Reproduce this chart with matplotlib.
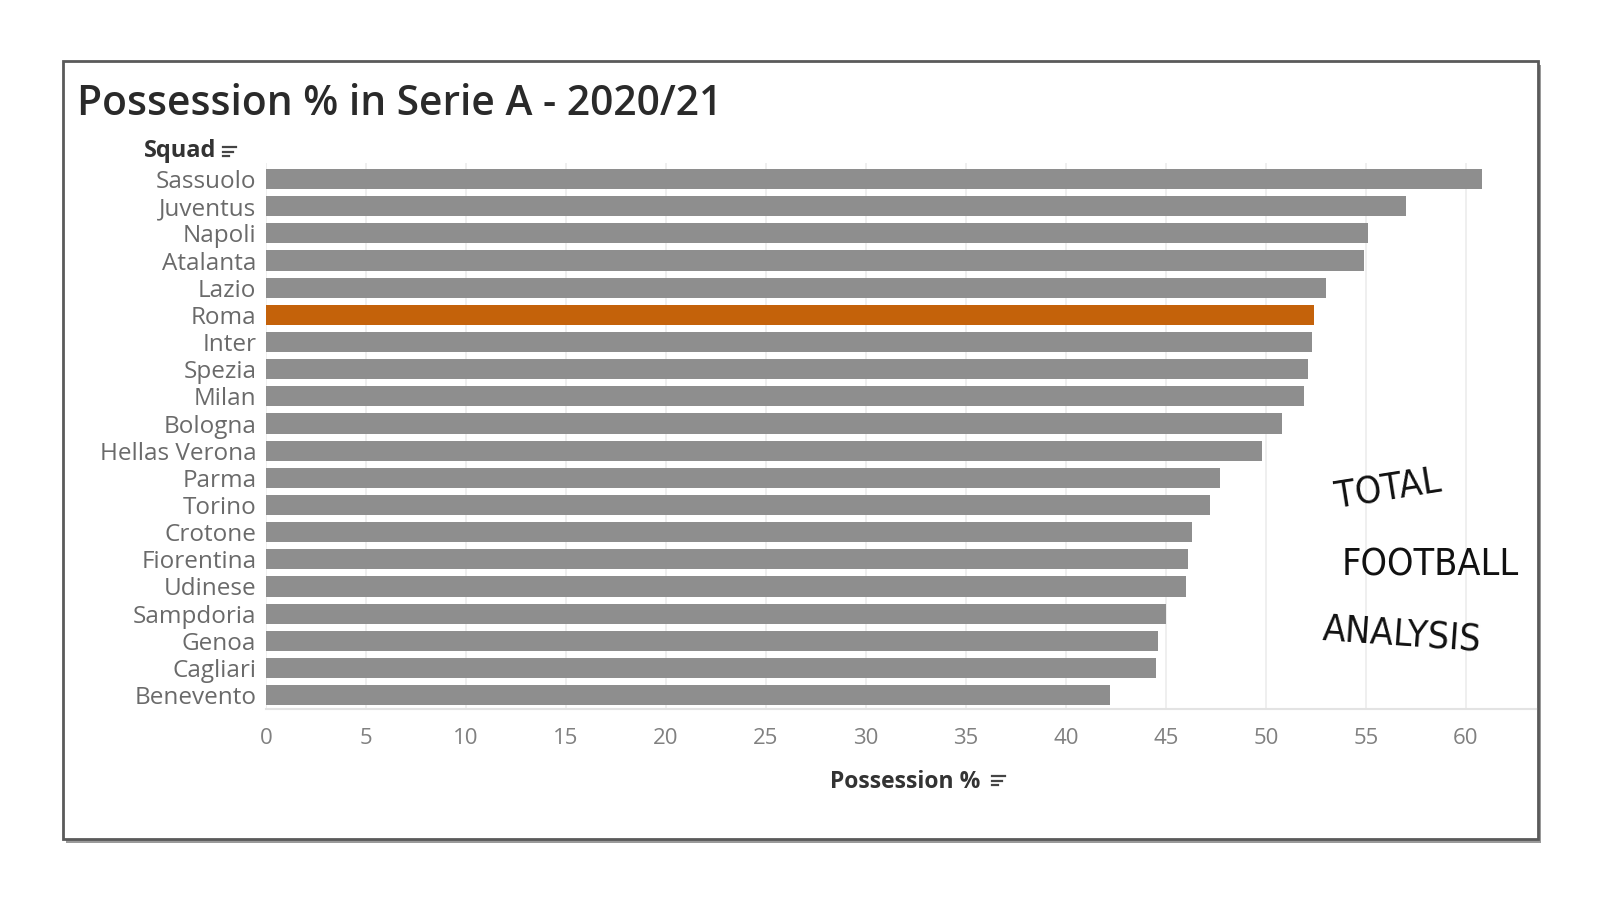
import matplotlib
matplotlib.use("Agg")
import matplotlib.pyplot as plt
from matplotlib.patches import Rectangle
from matplotlib.lines import Line2D

squads = ["Sassuolo", "Juventus", "Napoli", "Atalanta", "Lazio", "Roma", "Inter",
          "Spezia", "Milan", "Bologna", "Hellas Verona", "Parma", "Torino", "Crotone",
          "Fiorentina", "Udinese", "Sampdoria", "Genoa", "Cagliari", "Benevento"]
possession = [60.8, 57.0, 55.1, 54.9, 53.0, 52.4, 52.3, 52.1, 51.9, 50.8,
              49.8, 47.7, 47.2, 46.3, 46.1, 46.0, 45.0, 44.6, 44.5, 42.2]
highlight = "Roma"
xticks = [0, 5, 10, 15, 20, 25, 30, 35, 40, 45, 50, 55, 60]

W, H = 1600, 900
fig = plt.figure(figsize=(16, 9), dpi=100)
fig.patch.set_facecolor("white")


def fx(x):
    return x / W


def fy(y):
    return 1 - y / H


# card with shadow
fig.patches.append(Rectangle((fx(66), fy(843)), fx(1538 - 63), (842 - 64) / H,
                             transform=fig.transFigure, facecolor="#9a9a9a",
                             edgecolor="none", zorder=-3))
fig.patches.append(Rectangle((fx(63), fy(839)), fx(1538 - 63), (839 - 61) / H,
                             transform=fig.transFigure, facecolor="white",
                             edgecolor="#5a5a5a", linewidth=2, zorder=-2))

ax_l, ax_r, ax_t, ax_b = 266, 1536, 163, 709
ax = fig.add_axes([fx(ax_l), fy(ax_b), fx(ax_r - ax_l), (ax_b - ax_t) / H])
ax.set_facecolor("none")
ax.set_zorder(1)

ypos = list(range(len(squads)))
colors = ["#C4620A" if s == highlight else "#8E8E8E" for s in squads]
ax.barh(ypos, possession, height=0.74, color=colors, zorder=3)

ax.set_xlim(0, (ax_r - ax_l) / 20.0)
ax.set_ylim(19.51, -0.59)
ax.set_xticks(xticks)
ax.set_xticklabels([str(t) for t in xticks], fontsize=16, color="#808080",
                   family=["Open Sans", "DejaVu Sans"])
ax.set_yticks(ypos)
ax.set_yticklabels(squads, fontsize=17.5, color="#6a6a6a",
                   family=["Open Sans", "DejaVu Sans"])
ax.tick_params(axis="both", length=0)
ax.tick_params(axis="y", pad=7)
ax.tick_params(axis="x", pad=14)
ax.grid(axis="x", color="#ececec", linewidth=1.2, zorder=0)
for s in ["top", "right", "left"]:
    ax.spines[s].set_visible(False)
ax.spines["bottom"].set_color("#e3e3e3")
ax.spines["bottom"].set_linewidth(1.5)

# titles
fig.text(fx(77), fy(104), "Possession % in Serie A - 2020/21", fontsize=29.3,
         color="#2a2a2a", va="center", ha="left", fontweight="semibold",
         family=["Open Sans", "DejaVu Sans"])
fig.text(fx(144), fy(151), "Squad", fontsize=17, fontweight="bold",
         color="#333333", va="center", ha="left",
         family=["Open Sans", "DejaVu Sans"])
fig.text(fx(905), fy(782), "Possession %", fontsize=16.5, fontweight="bold",
         color="#333333", va="center", ha="center",
         family=["Open Sans", "DejaVu Sans"])


def sort_icon(x, y):
    for i, ln in enumerate([13, 10, 6]):
        fig.add_artist(Line2D([fx(x), fx(x + ln)], [fy(y + i * 4.5), fy(y + i * 4.5)],
                              transform=fig.transFigure, color="#444444",
                              linewidth=1.6))


sort_icon(223, 147)
sort_icon(992, 776)

# logo watermark
logo_font = dict(family=["DejaVu Sans", "Liberation Sans"], fontstretch="condensed",
                 fontweight="light", color="#111111", ha="center", va="center",
                 fontsize=27)
fig.text(fx(1388), fy(490), "TOTAL", rotation=9, **logo_font)
fig.text(fx(1430), fy(565), "FOOTBALL", **logo_font)
fig.text(fx(1402), fy(636), "ANALYSIS", rotation=-4, **logo_font)

fig.savefig("out.png", dpi=100, facecolor="white")
